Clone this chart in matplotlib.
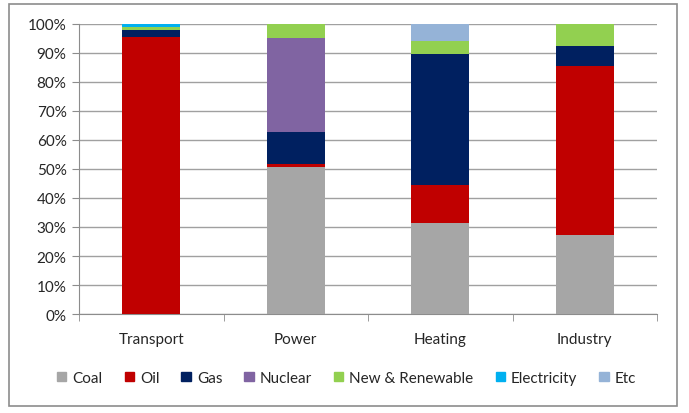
import matplotlib.pyplot as plt
from matplotlib.patches import Rectangle, Patch
import numpy as np

plt.rcParams['font.family'] = ['Lato', 'DejaVu Sans']

sectors = ["Transport", "Power", "Heating", "Industry"]
fuels = ["Coal", "Oil", "Gas", "Nuclear", "New & Renewable", "Electricity", "Etc"]
colors = ["#A6A6A6", "#C00000", "#002060", "#8064A2", "#92D050", "#00B0F0", "#95B3D7"]

# shares in % for each sector (Transport, Power, Heating, Industry)
coal = [0.0, 50.6, 31.4, 27.2]
oil = [95.4, 1.1, 13.1, 58.2]
gas = [2.6, 11.0, 45.2, 7.1]
nuclear = [0.0, 32.3, 0.0, 0.0]
renewable = [0.9, 5.0, 4.3, 7.5]
electricity = [1.1, 0.0, 0.0, 0.0]
etc = [0.0, 0.0, 6.0, 0.0]
series = [coal, oil, gas, nuclear, renewable, electricity, etc]

fig = plt.figure(figsize=(6.89, 4.14), dpi=100)
ax = fig.add_axes([0.1147, 0.239, 0.839, 0.701])

x = np.arange(len(sectors))
bottom = np.zeros(len(sectors))
for name, vals, c in zip(fuels, series, colors):
    ax.bar(x, vals, 0.4, bottom=bottom, color=c, label=name, zorder=3)
    bottom += np.array(vals)

ax.set_xlim(-0.5, 3.5)
ax.set_ylim(0, 100)
ax.set_yticks(range(0, 101, 10))
ax.set_yticklabels([f"{v}%" for v in range(0, 101, 10)], fontsize=11, color='#262626')
ax.grid(axis='y', color='#A0A0A0', linewidth=1, zorder=0)
ax.set_xticks(x)
ax.set_xticklabels(sectors, fontsize=11, color='#262626')
ax.set_xticks(np.arange(-0.5, 4, 1), minor=True)
ax.tick_params(axis='x', which='major', length=0, pad=13)
ax.tick_params(axis='x', which='minor', length=5, color='#8C8C8C')
ax.tick_params(axis='y', length=5, color='#8C8C8C', pad=4)
for s in ['top', 'right']:
    ax.spines[s].set_visible(False)
for s in ['left', 'bottom']:
    ax.spines[s].set_color('#8C8C8C')

handles = [Patch(color=c, label=n) for n, c in zip(fuels, colors)]
leg = fig.legend(handles=handles, loc='center', bbox_to_anchor=(0.503, 0.085), ncol=7,
                 frameon=False, fontsize=11, handlelength=0.6, handleheight=0.6,
                 handletextpad=0.4, columnspacing=1.45)
for t in leg.get_texts():
    t.set_color('#262626')

border = Rectangle((0.013, 0.017), 0.970, 0.971, transform=fig.transFigure,
                   fill=False, edgecolor='#8C8C8C', linewidth=1.2)
fig.patches.append(border)

fig.savefig("out.png", dpi=100)
